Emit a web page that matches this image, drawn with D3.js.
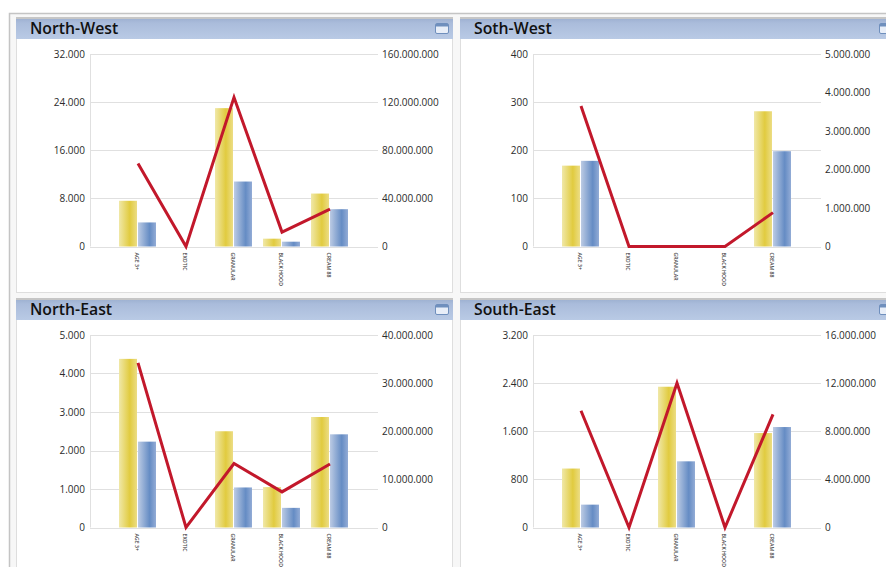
<!DOCTYPE html>
<html>
<head>
<meta charset="utf-8">
<script src="https://cdnjs.cloudflare.com/ajax/libs/d3/7.8.5/d3.min.js"></script>
<style>
html,body{margin:0;padding:0;background:#fff;overflow:hidden}
svg{display:block}
text{font-family:"Open Sans",sans-serif}
</style>
</head>
<body>
<svg width="886" height="567"></svg>
<script>
var categories = ['AGE 3+','EXOTIC','GRANULAR','BLACK HOOD','CREAM 88'];
var titles = ['North-West','Soth-West','North-East','South-East'];

var nwYellow = [7600,0,23000,1300,8800];
var nwBlue = [4000,0,10800,800,6200];
var nwLine = [69000000,0,124000000,12000000,31000000];
var nwLeft = [0,8000,16000,24000,32000];
var nwRight = [0,40000000,80000000,120000000,160000000];

var swYellow = [168,0,0,0,281];
var swBlue = [178,0,0,0,198];
var swLine = [3650000,0,0,0,880000];
var swLeft = [0,100,200,300,400];
var swRight = [0,1000000,2000000,3000000,4000000,5000000];

var neYellow = [4380,0,2500,1050,2870];
var neBlue = [2230,0,1040,510,2420];
var neLine = [34200000,0,13300000,7400000,13200000];
var neLeft = [0,1000,2000,3000,4000,5000];
var neRight = [0,10000000,20000000,30000000,40000000];

var seYellow = [980,0,2340,0,1570];
var seBlue = [380,0,1100,0,1670];
var seLine = [9700000,0,12000000,0,9400000];
var seLeft = [0,800,1600,2400,3200];
var seRight = [0,4000000,8000000,12000000,16000000];

var svg = d3.select('svg');
var fmt = d3.formatLocale({decimal:',',thousands:'.',grouping:[3],currency:['','']}).format(',d');

var defs = svg.append('defs');
function grad(id,stops,vertical){
  var g = defs.append('linearGradient').attr('id',id);
  if(vertical) g.attr('x2',0).attr('y2',1);
  stops.forEach(function(s){ g.append('stop').attr('offset',s[0]).attr('stop-color',s[1]); });
}
grad('gy',[[0,'#f0e8a8'],[0.6,'#e1cb3f'],[1,'#ecdd85']]);
grad('gb',[[0,'#bccbe4'],[0.65,'#658cc4'],[1,'#93acd6']]);
grad('gt',[[0,'#9fb2d2'],[0.2,'#aabcdb'],[1,'#b9cae5']],true);

// outer frame
svg.append('rect').attr('x',9.5).attr('y',13.5).attr('width',900).attr('height',600)
  .attr('fill','#f7f7f7').attr('stroke','#c4c4c4').attr('stroke-width',1.5);

function panel(px,py,pw,ph,plotX,title,yellow,blue,line,left,right){
  var g = svg.append('g').attr('transform','translate('+px+','+py+')');
  g.append('rect').attr('x',0.5).attr('y',0.5).attr('width',pw).attr('height',ph)
    .attr('fill','#fff').attr('stroke','#dedede');
  g.append('rect').attr('width',pw+1).attr('height',2).attr('y',-1).attr('fill','#c6c6c6');
  g.append('rect').attr('y',1).attr('width',pw+1).attr('height',20).attr('fill','url(#gt)');
  g.append('text').attr('x',14).attr('y',16).attr('font-size',15.8).attr('font-weight',600)
    .attr('fill','#111').text(title);
  // little window button
  g.append('rect').attr('x',419.5).attr('y',5.5).attr('width',13).attr('height',10).attr('rx',1.5)
    .attr('fill','#e8eef8').attr('stroke','#6f8fbd');
  g.append('rect').attr('x',420).attr('y',6).attr('width',12).attr('height',2.5).attr('fill','#6f8fbd');

  var plotY = 36, plotW = 288, plotH = 192.5;
  var x = d3.scaleBand().domain(categories).range([24,264]);
  var y = d3.scaleLinear().domain([0,d3.max(left)]).range([plotH,0]);
  var y2 = d3.scaleLinear().domain([0,d3.max(right)]).range([plotH,0]);
  var plot = g.append('g').attr('transform','translate('+plotX+','+plotY+')');

  plot.selectAll('line.grid').data(left).enter().append('line').attr('class','grid')
    .attr('x1',0).attr('x2',plotW).attr('y1',function(d){return Math.round(y(d))+0.5;})
    .attr('y2',function(d){return Math.round(y(d))+0.5;})
    .attr('stroke','#e0e0e0');
  plot.append('line').attr('x1',0.5).attr('x2',0.5).attr('y1',0).attr('y2',plotH).attr('stroke','#e0e0e0');

  var axL = plot.append('g').call(d3.axisLeft(y).tickValues(left).tickFormat(fmt).tickSize(0).tickPadding(5));
  var axR = plot.append('g').attr('transform','translate('+plotW+',0)')
    .call(d3.axisRight(y2).tickValues(right).tickFormat(fmt).tickSize(0).tickPadding(4));
  [axL,axR].forEach(function(a){
    a.select('.domain').remove();
    a.selectAll('text').attr('font-size',10).attr('fill','#2b2b2b').style('font-family','"Open Sans",sans-serif');
  });

  plot.selectAll('rect.y').data(yellow).enter().append('rect').attr('class','y')
    .attr('x',function(d,i){return x(categories[i])+5;}).attr('width',18)
    .attr('y',function(d){return y(d);}).attr('height',function(d){return plotH-y(d);})
    .attr('fill','url(#gy)');
  plot.selectAll('rect.b').data(blue).enter().append('rect').attr('class','b')
    .attr('x',function(d,i){return x(categories[i])+24;}).attr('width',18)
    .attr('y',function(d){return y(d);}).attr('height',function(d){return plotH-y(d);})
    .attr('fill','url(#gb)');

  var ln = d3.line().x(function(d,i){return x(categories[i])+x.bandwidth()/2;}).y(function(d){return y2(d);});
  plot.append('path').attr('d',ln(line)).attr('fill','none').attr('stroke','#c2182b').attr('stroke-width',3);

  plot.selectAll('text.cat').data(categories).enter().append('text').attr('class','cat')
    .attr('transform',function(d){return 'translate('+(x(d)+x.bandwidth()/2-1)+','+(plotH+6)+') rotate(90)';})
    .attr('font-size',5.2).attr('font-weight',600).attr('dy','0.35em').attr('fill','#444').text(function(d){return d;});
}

panel(16,18,436,274,74,titles[0],nwYellow,nwBlue,nwLine,nwLeft,nwRight);
panel(460,18,436,274,73,titles[1],swYellow,swBlue,swLine,swLeft,swRight);
panel(16,299,436,280,74,titles[2],neYellow,neBlue,neLine,neLeft,neRight);
panel(460,299,436,280,73,titles[3],seYellow,seBlue,seLine,seLeft,seRight);
</script>
</body>
</html>
